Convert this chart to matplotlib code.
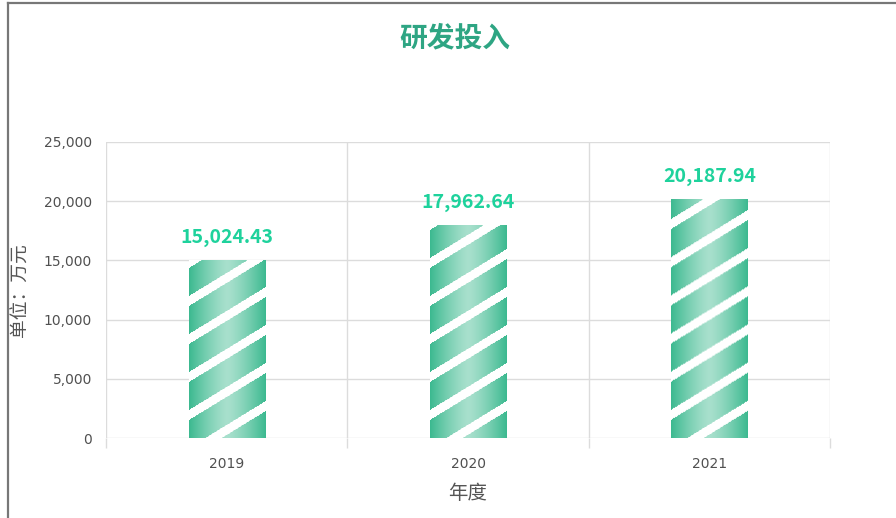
import numpy as np
import matplotlib
matplotlib.use("Agg")
import matplotlib.pyplot as plt
from matplotlib.lines import Line2D

plt.rcParams['font.family'] = ['Noto Sans CJK SC', 'DejaVu Sans']

years = ['2019', '2020', '2021']
values = [15024.43, 17962.64, 20187.94]
yticks = [0, 5000, 10000, 15000, 20000, 25000]

W, H = 896, 518
fig = plt.figure(figsize=(W / 100, H / 100), dpi=100)
ax = fig.add_axes([106 / W, 1 - 438 / H, (830 - 106) / W, (438 - 142) / H])

x = np.arange(len(years))
bw = 0.315
ax.set_xlim(-0.5, len(years) - 0.5)
ax.set_ylim(0, 25000)

grid_c = '#dcdcdc'
tick_c = '#505050'
ax.set_yticks(yticks)
ax.set_yticklabels([f'{v:,}' for v in yticks], fontfamily='DejaVu Sans')
ax.set_xticks(x)
ax.set_xticklabels(years, fontfamily='DejaVu Sans')
ax.set_xticks(np.arange(-0.5, len(years)), minor=True)
ax.tick_params(axis='x', which='major', length=0, pad=14, labelsize=10, labelcolor=tick_c)
ax.tick_params(axis='x', which='minor', length=7, color=grid_c, width=1)
ax.tick_params(axis='y', length=0, pad=10, labelsize=10, labelcolor=tick_c)
for v in yticks:
    ax.axhline(v, color=grid_c, lw=1, zorder=0)
for b in np.arange(-0.5, len(years)):
    ax.axvline(b, color=grid_c, lw=1, zorder=0)
for s in ax.spines.values():
    s.set_visible(False)

dark = np.array([0x3b, 0xb9, 0x8f]) / 255
light = np.array([0xa8, 0xe0, 0xcd]) / 255
period = 38.0
white_w = 10.0
slope = 0.62

for xi, v in zip(x, values):
    bars = ax.bar(xi, v, width=bw, color='none', edgecolor='none', zorder=2)
    patch = bars[0]
    p0 = ax.transData.transform((xi - bw / 2, 0))
    p1 = ax.transData.transform((xi + bw / 2, v))
    wpx = int(round(p1[0] - p0[0]))
    hpx = int(round(p1[1] - p0[1]))
    px = np.arange(wpx) + 0.5
    py = np.arange(hpx) + 0.5
    PX, PY = np.meshgrid(px, py[::-1])
    s = (PY - PX * slope + 20) % period
    t = np.abs(PX - wpx / 2) / (wpx / 2)
    t = np.clip(t, 0, 1) ** 1.3
    img = light[None, None, :] * (1 - t[..., None]) + dark[None, None, :] * t[..., None]
    img[s < white_w] = 1.0
    im = ax.imshow(img, extent=(xi - bw / 2, xi + bw / 2, 0, v), aspect='auto',
                   interpolation='bilinear', zorder=2)
    im.set_clip_path(patch)
    ax.text(xi, v + 1100, f'{v:,.2f}', ha='center', va='bottom', fontsize=14,
            fontweight='bold', color='#1ed29c', zorder=3)

ax.set_xlim(-0.5, len(years) - 0.5)
ax.set_ylim(0, 25000)

ax.set_xlabel('年度', fontsize=14, color='#555555', labelpad=8)
ax.set_ylabel('单位：万元', fontsize=13.5, color='#555555')
ax.yaxis.set_label_coords((31 - 106) / (830 - 106), 0.5)

fig.text(455 / W, 1 - 38 / H, '研发投入', ha='center', va='center', fontsize=20,
         fontweight='bold', color='#2ea583')

# outer border (top and left)
fig.add_artist(Line2D([8 / W, 8 / W], [0, 1 - 3 / H], transform=fig.transFigure,
                      color='#777777', lw=1.6))
fig.add_artist(Line2D([8 / W, 1], [1 - 3 / H, 1 - 3 / H], transform=fig.transFigure,
                      color='#777777', lw=1.6))

fig.savefig('out.png', dpi=100)
